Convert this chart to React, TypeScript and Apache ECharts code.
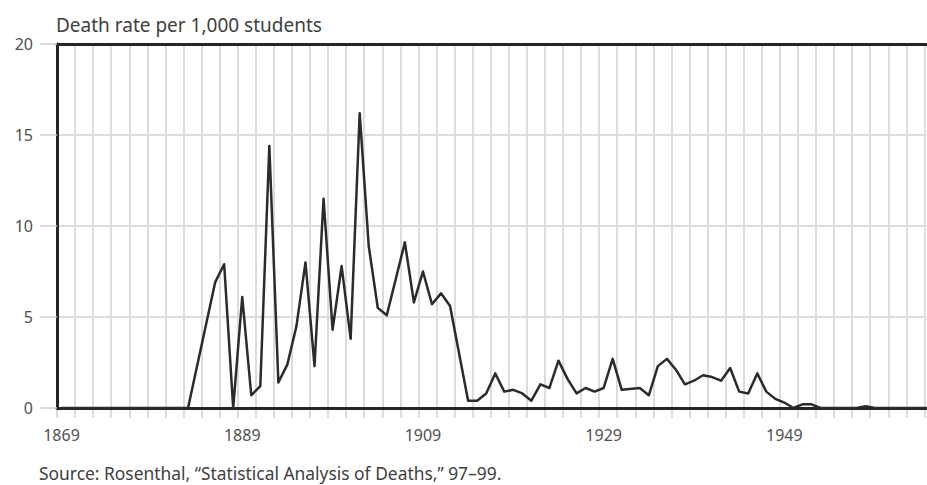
import React, { useEffect, useRef } from "react";
import * as echarts from "echarts";

const titleText = "Death rate per 1,000 students";
const sourceText = "Source: Rosenthal, \u201cStatistical Analysis of Deaths,\u201d 97\u201399.";

const years = [
  1869, 1883, 1886, 1887, 1888, 1889, 1890, 1891, 1892, 1893, 1894, 1895, 1896,
  1897, 1898, 1899, 1900, 1901, 1902, 1903, 1904, 1905, 1907, 1908, 1909, 1910,
  1911, 1912, 1914, 1915, 1916, 1917, 1918, 1919, 1920, 1921, 1922, 1923, 1924,
  1925, 1926, 1927, 1928, 1929, 1930, 1931, 1933, 1934, 1935, 1936, 1937, 1938,
  1939, 1940, 1941, 1942, 1943, 1944, 1945, 1946, 1947, 1948, 1949, 1950, 1951,
  1952, 1953, 1957, 1958, 1959, 1967,
];
const deathRate = [
  0, 0, 6.9, 7.9, 0, 6.1, 0.7, 1.2, 14.4, 1.4, 2.4, 4.5, 8.0,
  2.3, 11.5, 4.3, 7.8, 3.8, 16.2, 8.9, 5.5, 5.1, 9.1, 5.8, 7.5, 5.7,
  6.3, 5.6, 0.4, 0.4, 0.8, 1.9, 0.9, 1.0, 0.8, 0.4, 1.3, 1.1, 2.6,
  1.6, 0.8, 1.1, 0.9, 1.1, 2.7, 1.0, 1.1, 0.7, 2.3, 2.7, 2.1, 1.3,
  1.5, 1.8, 1.7, 1.5, 2.2, 0.9, 0.8, 1.9, 0.9, 0.5, 0.3, 0, 0.2,
  0.2, 0, 0, 0.1, 0, 0,
];
const labelYears = [1869, 1889, 1909, 1929, 1949];
const yTicks = [0, 5, 10, 15, 20];

const X_MIN = 1868.5;
const X_MAX = 1967;

export default function App() {
  const ref = useRef<HTMLDivElement>(null);
  useEffect(() => {
    if (!ref.current) return;
    const chart = echarts.init(ref.current, null, { renderer: "svg" });
    const font = "'Noto Sans', 'Open Sans', sans-serif";
    const dark = "#262626";
    const grid = "#dcdcdc";
    chart.setOption({
      animation: false,
      backgroundColor: "#ffffff",
      title: {
        text: titleText,
        left: 51,
        top: 10,
        textStyle: { fontFamily: font, fontSize: 19, fontWeight: "normal", color: "#404040" },
      },
      graphic: [
        {
          type: "text",
          left: 39,
          top: 464,
          style: { text: sourceText, fontFamily: font, fontSize: 17.4, fill: "#404040" },
        },
      ],
      grid: { left: 57, top: 44, width: 890, bottom: 77, show: false },
      xAxis: [
        {
          type: "value",
          min: X_MIN,
          max: X_MAX,
          interval: 0.5,
          position: "bottom",
          z: 3,
          axisLine: { show: true, onZero: false, lineStyle: { color: dark, width: 3 } },
          axisTick: { show: false },
          splitLine: { show: false },
          axisLabel: {
            margin: 19,
            fontFamily: font,
            fontSize: 16,
            color: "#505050",
            showMinLabel: false,
            showMaxLabel: false,
            formatter: (v: number) => (labelYears.includes(v) ? String(v) : ""),
          },
        },
        {
          type: "value",
          min: 0,
          max: X_MAX - X_MIN,
          interval: 2,
          position: "bottom",
          z: 0,
          axisLine: { show: false },
          axisLabel: { show: false },
          axisTick: { show: true, length: 10, lineStyle: { color: grid, width: 2 } },
          splitLine: { show: true, lineStyle: { color: grid, width: 2 } },
        },
        {
          type: "value",
          min: 0,
          max: X_MAX - X_MIN,
          position: "top",
          z: 3,
          axisLine: { show: true, onZero: false, lineStyle: { color: dark, width: 3 } },
          axisLabel: { show: false },
          axisTick: { show: false },
          splitLine: { show: false },
        },
      ],
      yAxis: {
        type: "value",
        min: yTicks[0],
        max: yTicks[yTicks.length - 1],
        interval: 5,
        z: 3,
        axisLine: { show: true, lineStyle: { color: dark, width: 3 } },
        axisTick: { show: true, length: 17, lineStyle: { color: "#cfcfcf", width: 1.5 } },
        splitLine: { show: true, lineStyle: { color: grid, width: 2 } },
        axisLabel: { margin: 24, fontFamily: font, fontSize: 16, color: "#505050" },
      },
      series: [
        {
          type: "line",
          xAxisIndex: 0,
          symbol: "none",
          z: 4,
          lineStyle: { color: "#2b2b2b", width: 2.5, join: "round" },
          data: years.map((y, i) => [y, deathRate[i]]),
        },
      ],
    });
    return () => chart.dispose();
  }, []);
  return (
    <div
      style={{
        position: "fixed",
        left: 0,
        top: 0,
        width: 927,
        height: 485,
        overflow: "hidden",
        background: "#fff",
      }}
    >
      <div ref={ref} style={{ width: 960, height: 485 }} />
    </div>
  );
}
